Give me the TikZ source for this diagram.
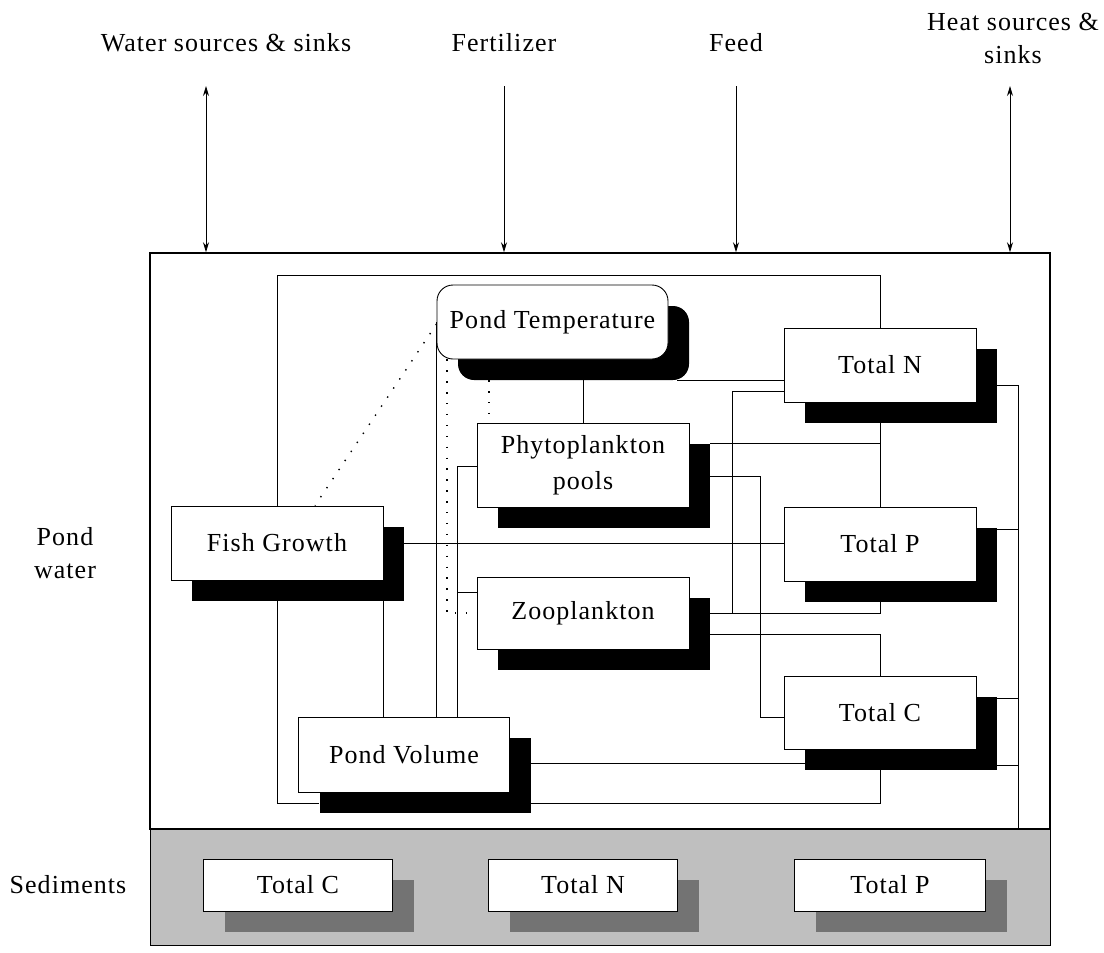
\documentclass[tikz,border=0pt]{standalone}
\usepackage{fontspec}
\setmainfont{Liberation Serif}[LetterSpace=4]
\usetikzlibrary{arrows.meta}
\pgfdeclarelayer{background}
\pgfsetlayers{background,main}
\newcommand{\mybox}[7]{%
  \node[shd, fill=#7, minimum width=#4pt, minimum height=#5pt] (#1s) at (#2+21,#3+21) {};
  \node[box, minimum width=#4pt, minimum height=#5pt] (#1) at (#2,#3) {#6};}
\begin{document}
\begin{tikzpicture}[x=1pt,y=-1pt,
  box/.style={draw,fill=white,line width=0.9pt,inner sep=0pt,align=center,font=\fontsize{26}{36}\selectfont},
  shd/.style={draw=none,inner sep=0pt},
  con/.style={line width=0.9pt},
  dot/.style={line width=1.4pt,dash pattern=on 1.4pt off 9.5pt},
  lbl/.style={font=\fontsize{26}{33}\selectfont,align=center,inner sep=0pt},
  arr/.style={line width=0.9pt,{Stealth[length=10pt,width=6pt]}-{Stealth[length=10pt,width=6pt]}},
  arrd/.style={line width=0.9pt,-{Stealth[length=10pt,width=6pt]}}]
\useasboundingbox (0,0) rectangle (1104,953);
% panels
\fill[black!25] (150,829) rectangle (1050,945);
\node[draw,line width=1pt,minimum width=900pt,minimum height=116pt,inner sep=0pt] (sed) at (600,887) {};
\node[draw,line width=1.5pt,minimum width=900pt,minimum height=576pt,inner sep=0pt] (pond) at (600,541) {};
% labels
\node[lbl] (lw) at (226,43) {Water sources \& sinks};
\node[lbl] (lf) at (504,43) {Fertilizer};
\node[lbl] (lfe) at (736,43) {Feed};
\node[lbl] (lh) at (1013,38) {Heat sources \&\\sinks};
\node[lbl] (lpw) at (65,553) {Pond\\water};
\node[lbl] (lsd) at (68,885) {Sediments};
% top arrows
\coordinate (wa) at (206,86);
\coordinate (fa) at (504,86);
\coordinate (fea) at (736,86);
\coordinate (ha) at (1010,86);
\draw[arr] (wa) -- (pond.north -| wa);
\draw[arrd] (fa) -- (pond.north -| fa);
\draw[arrd] (fea) -- (pond.north -| fea);
\draw[arr] (ha) -- (pond.north -| ha);
% boxes
\node[shd,fill=black,rounded corners=16pt,minimum width=231pt,minimum height=74pt] (pts) at (573.5,343) {};
\node[box,rounded corners=16pt,minimum width=231pt,minimum height=74pt] (pt) at (552.5,322) {Pond Temperature};
\mybox{ph}{583}{465}{212}{84}{Phytoplankton\\pools}{black}
\mybox{zo}{583}{613}{212}{72}{Zooplankton}{black}
\mybox{fg}{277}{543}{212}{74}{Fish Growth}{black}
\mybox{pv}{404}{754.5}{211}{75}{Pond Volume}{black}
\mybox{tn}{880}{365}{192}{74}{Total N}{black}
\mybox{tp}{880}{544}{192}{74}{Total P}{black}
\mybox{tc}{880}{712.5}{192}{73}{Total C}{black}
\mybox{sc}{298}{885}{189}{52}{Total C}{black!55}
\mybox{sn}{583}{885}{189}{52}{Total N}{black!55}
\mybox{sp}{890}{885}{191}{52}{Total P}{black!55}
% connectors
\coordinate (j1) at (732,613);
\coordinate (j2) at (457,592);
\coordinate (b1) at (1018,385);
\begin{pgfonlayer}{background}
\draw[con] (fg.north) -- (fg.north |- 0,275) -| (tn.north);
\draw[con] (fgs.south -| fg.north) |- (pvs.west |- 0,803);
\draw[con] (fgs.south -| fg.east) -- (pv.north -| fg.east);
\draw[con] (fgs.east |- fg.center) -- (tp.west |- fg.center);
\draw[con] ([xshift=-12pt]pts.south east) -- (tn.west |- pts.south);
\draw[con] (pts.south -| ph.north) -- (ph.north);
\draw[con] (tn.west |- 0,391) -| (j1);
\draw[con] (zos.east |- zo.center) -| (tps.south -| tp.center);
\draw[con] (phs.north east) -- (tn.center |- phs.north east);
\draw[con] (tns.south -| tn.center) -- (tp.north);
\draw[con] (phs.east |- 0,476) -| (760,717) -- (tc.west |- 0,717);
\draw[con] (tns.east |- b1) -- (b1) -- (pond.south -| b1);
\draw[con] (tps.east |- 0,529) -- (b1 |- 0,529);
\draw[con] (tcs.east |- 0,698) -- (b1 |- 0,698);
\draw[con] (tcs.east |- 0,765) -- (b1 |- 0,765);
\draw[con] (zos.east |- 0,634) -| (tc.north);
\draw[con] (pvs.east |- 0,763) -- (tcs.west |- 0,763);
\draw[con] (pvs.east |- 0,803) -| (tcs.south -| tc.center);
\draw[con] (pt.west) -- (pv.north -| pt.west);
\draw[con] (pv.north -| j2) |- (ph.west |- 0,466);
\draw[con] (j2) -- (zo.west |- j2);
\draw[dot] ([yshift=-2pt]pt.west) -- ([xshift=38pt]fg.north);
\draw[dot] (pt.south -| 447,0) |- (zo.west);
\draw[dot] (pts.south -| 489,0) -- (ph.north -| 489,0);
\end{pgfonlayer}
\end{tikzpicture}
\end{document}
